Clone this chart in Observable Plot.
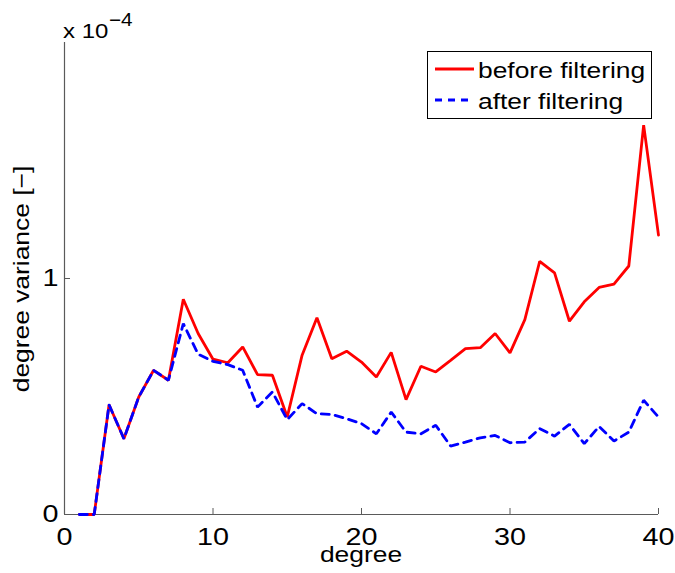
<!DOCTYPE html>
<html>
<head>
<meta charset="utf-8">
<script src="https://cdn.jsdelivr.net/npm/d3@7"></script>
<script src="https://cdn.jsdelivr.net/npm/@observablehq/plot@0.6"></script>
<style>
  html, body { margin: 0; padding: 0; background: #fff; }
  #chart svg { display: block; font-family: "Liberation Sans", Arial, sans-serif; }
</style>
</head>
<body>
<div id="chart"></div>
<script>
// degree (x) and degree variance in units of 1e-4 (y)
const degrees = d3.range(1, 41);
const beforeFiltering = [0, 0, 0.465, 0.321, 0.498, 0.611, 0.569, 0.912, 0.767, 0.658,
  0.643, 0.710, 0.593, 0.590, 0.413, 0.675, 0.834, 0.660, 0.692, 0.646,
  0.583, 0.687, 0.487, 0.628, 0.604, 0.653, 0.703, 0.707, 0.767, 0.685,
  0.826, 1.073, 1.024, 0.819, 0.901, 0.962, 0.976, 1.053, 1.650, 1.184];
const afterFiltering = [0, 0, 0.465, 0.321, 0.498, 0.611, 0.569, 0.809, 0.679, 0.649,
  0.635, 0.611, 0.455, 0.519, 0.402, 0.470, 0.427, 0.424, 0.406, 0.385,
  0.342, 0.434, 0.349, 0.342, 0.378, 0.290, 0.307, 0.325, 0.335, 0.304,
  0.307, 0.364, 0.332, 0.382, 0.300, 0.373, 0.311, 0.349, 0.484, 0.413];
const xTicks = [0, 10, 20, 30, 40];
const yTicks = [0, 1];
const seriesNames = ["before filtering", "after filtering"];
const seriesColors = ["#ff0000", "#0000ff"];
const xLabel = "degree";
const yLabel = "degree variance [\u2212]";
const exponentBase = "x 10";
const exponentPower = "\u22124";

const beforeData = degrees.map((d, i) => ({degree: d, value: beforeFiltering[i]}));
const afterData = degrees.map((d, i) => ({degree: d, value: afterFiltering[i]}));

const axisColor = "#5a5a5a";
const dash = "8,6";
const lw = 2.8;
const fmt = (d) => String(d);

const plot = Plot.plot({
  width: 675,
  height: 573,
  marginLeft: 64,
  marginRight: 17,
  marginTop: 42,
  marginBottom: 59,
  style: {fontSize: "23px", fontFamily: "Liberation Sans, Arial, sans-serif", color: "#000", background: "#fff"},
  x: {domain: [0, 40]},
  y: {domain: [0, 2]},
  marks: [
    Plot.ruleX([0], {stroke: axisColor, strokeWidth: 1.2}),
    Plot.ruleY([0], {stroke: axisColor, strokeWidth: 1.2}),
    Plot.axisX({ticks: xTicks, tickSize: -6, text: null, stroke: axisColor, label: null}),
    Plot.axisX({ticks: xTicks, tickSize: 0, tickPadding: 14, tickFormat: fmt, label: null, fill: "#000"}),
    Plot.axisY({ticks: yTicks, tickSize: -6, text: null, stroke: axisColor, label: null}),
    Plot.axisY({ticks: yTicks, tickSize: 0, tickPadding: 6, tickFormat: fmt, label: null, fill: "#000"}),
    Plot.line(beforeData, {x: "degree", y: "value", stroke: seriesColors[0], strokeWidth: lw, strokeLinejoin: "miter"}),
    Plot.line(afterData, {x: "degree", y: "value", stroke: seriesColors[1], strokeWidth: lw, strokeDasharray: dash, strokeLinejoin: "miter"})
  ]
});

document.getElementById("chart").appendChild(plot);
const svg = d3.select(plot);

// stretch text horizontally to mimic the wide rendering of the original
function stretch(sel, k) {
  sel.each(function() {
    let t = this.getAttribute("transform") || "";
    const xa = this.getAttribute("x");
    if (xa != null && !isNaN(+xa)) {
      this.removeAttribute("x");
      t = `translate(${+xa},0) ` + t;
    }
    this.setAttribute("transform", t + ` scale(${k},1)`);
  });
}
stretch(svg.selectAll("text"), 1.25);

const font = "Liberation Sans, Arial, sans-serif";

// axis titles
svg.append("text").text(xLabel)
  .attr("transform", "translate(361,562) scale(1.2,1)")
  .attr("text-anchor", "middle").attr("font-size", 22).attr("font-family", font).attr("fill", "#000");
svg.append("text").text(yLabel)
  .attr("transform", "translate(29,279) rotate(-90) scale(1.2,1)")
  .attr("text-anchor", "middle").attr("font-size", 22).attr("font-family", font).attr("fill", "#000");

// exponent label
svg.append("text").text(exponentBase)
  .attr("transform", "translate(63,38) scale(1.2,1)")
  .attr("text-anchor", "start").attr("font-size", 20).attr("font-family", font).attr("fill", "#000");
svg.append("text").text(exponentPower)
  .attr("transform", "translate(109,26) scale(1.15,1)")
  .attr("text-anchor", "start").attr("font-size", 18).attr("font-family", font).attr("fill", "#000");

// legend
const lg = svg.append("g");
lg.append("rect").attr("x", 427.5).attr("y", 51.5).attr("width", 224).attr("height", 67)
  .attr("fill", "#fff").attr("stroke", "#000").attr("stroke-width", 1);
seriesNames.forEach((name, i) => {
  const y = 69 + i * 31;
  lg.append("line").attr("x1", 435).attr("x2", 474).attr("y1", y).attr("y2", y)
    .attr("stroke", seriesColors[i]).attr("stroke-width", lw)
    .attr("stroke-dasharray", i === 1 ? "7,6" : null);
  lg.append("text").text(name)
    .attr("transform", `translate(478,${y + 9}) scale(1.2,1)`)
    .attr("text-anchor", "start").attr("font-size", 22).attr("font-family", font).attr("fill", "#000");
});
</script>
</body>
</html>
